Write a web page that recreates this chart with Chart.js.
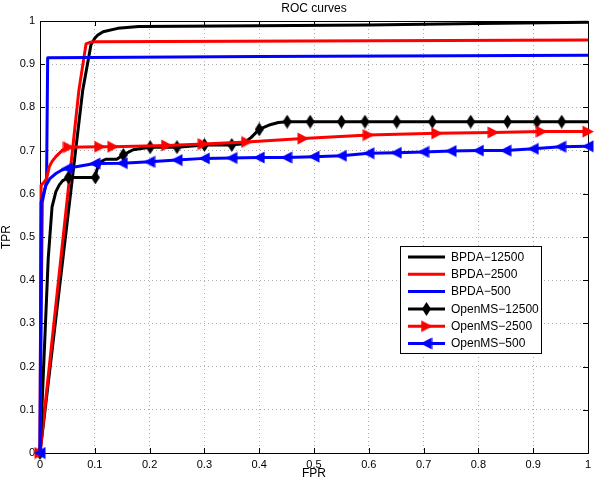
<!DOCTYPE html>
<html lang="en">
<head>
    <meta charset="UTF-8">
    <title>ROC curves</title>
    <script src="https://cdn.jsdelivr.net/npm/chart.js"></script>
    <style>
        body { margin: 0; background: #fff; }
        #wrap { width: 600px; height: 486px; }
    </style>
</head>
<body>
    <div id="wrap"><canvas id="roc" width="600" height="486"></canvas></div>
    <script>
        // axis ticks
        const tickValues = [0, 0.1, 0.2, 0.3, 0.4, 0.5, 0.6, 0.7, 0.8, 0.9, 1];

        // BPDA curves (plain lines)
        const bpda12500X = [0, 0.078, 0.093, 0.1, 0.105, 0.115, 0.142, 0.18, 0.4, 0.6, 0.8, 1];
        const bpda12500Y = [0, 0.84, 0.945, 0.96, 0.967, 0.975, 0.983, 0.987, 0.989, 0.991, 0.994, 0.997];
        const bpda2500X = [0, 0.071, 0.084, 0.092, 0.1, 1];
        const bpda2500Y = [0, 0.84, 0.947, 0.951, 0.952, 0.956];
        const bpda500X = [0, 0.004, 0.012, 0.014, 0.4, 1];
        const bpda500Y = [0, 0.58, 0.63, 0.915, 0.918, 0.921];

        // OpenMS curves: line vertices + marker positions
        const oms12500X = [0, 0.015, 0.022, 0.029, 0.035, 0.041, 0.052, 0.1, 0.105, 0.112, 0.12, 0.14, 0.152, 0.17, 0.2, 0.25, 0.3, 0.35, 0.37, 0.385, 0.4, 0.42, 0.435, 0.451, 1];
        const oms12500Y = [0, 0.45, 0.57, 0.605, 0.62, 0.63, 0.638, 0.638, 0.66, 0.675, 0.68, 0.68, 0.69, 0.702, 0.708, 0.708, 0.713, 0.713, 0.716, 0.73, 0.749, 0.76, 0.765, 0.767, 0.767];
        const oms12500MX = [0, 0.052, 0.101, 0.152, 0.201, 0.25, 0.3, 0.35, 0.4, 0.451, 0.493, 0.55, 0.593, 0.651, 0.716, 0.786, 0.853, 0.907, 0.952];
        const oms12500MY = [0, 0.638, 0.638, 0.69, 0.708, 0.708, 0.713, 0.713, 0.749, 0.767, 0.767, 0.767, 0.767, 0.767, 0.767, 0.767, 0.767, 0.767, 0.767];

        const oms2500X = [0, 0.002, 0.008, 0.012, 0.017, 0.022, 0.029, 0.041, 0.052, 0.109, 0.133, 0.231, 0.298, 0.377, 0.48, 0.599, 0.724, 0.827, 0.915, 1];
        const oms2500Y = [0, 0.62, 0.628, 0.635, 0.663, 0.675, 0.686, 0.701, 0.708, 0.709, 0.709, 0.712, 0.715, 0.72, 0.728, 0.736, 0.74, 0.742, 0.744, 0.744];
        const oms2500MX = [0, 0.052, 0.109, 0.133, 0.231, 0.298, 0.377, 0.48, 0.599, 0.724, 0.827, 0.915, 1];
        const oms2500MY = [0, 0.708, 0.709, 0.709, 0.712, 0.715, 0.72, 0.728, 0.736, 0.74, 0.742, 0.744, 0.744];

        const oms500X = [0, 0.002, 0.011, 0.018, 0.029, 0.04, 0.05, 0.1, 0.15, 0.2, 0.25, 0.3, 0.35, 0.4, 0.45, 0.5, 0.55, 0.6, 0.65, 0.7, 0.75, 0.8, 0.85, 0.9, 0.95, 1];
        const oms500Y = [0, 0.58, 0.62, 0.635, 0.647, 0.655, 0.659, 0.67, 0.671, 0.674, 0.678, 0.682, 0.683, 0.684, 0.684, 0.686, 0.688, 0.694, 0.695, 0.697, 0.699, 0.7, 0.7, 0.704, 0.709, 0.71];
        const oms500MX = [0, 0.05, 0.1, 0.15, 0.2, 0.25, 0.3, 0.35, 0.4, 0.45, 0.5, 0.55, 0.6, 0.65, 0.7, 0.75, 0.8, 0.85, 0.9, 0.95, 1];
        const oms500MY = [0, 0.659, 0.67, 0.671, 0.674, 0.678, 0.682, 0.683, 0.684, 0.684, 0.686, 0.688, 0.694, 0.695, 0.697, 0.699, 0.7, 0.7, 0.704, 0.709, 0.71];

        const seriesNames = ['BPDA\u221212500', 'BPDA\u22122500', 'BPDA\u2212500', 'OpenMS\u221212500', 'OpenMS\u22122500', 'OpenMS\u2212500'];

        const FONT = '"Liberation Sans", Arial, Helvetica, sans-serif';

        // MATLAB-ish filled markers drawn on small canvases
        function makeMarker(kind, color) {
            const c = document.createElement('canvas');
            const w = kind === 'diamond' ? 9 : 12;
            const h = kind === 'diamond' ? 14 : 13;
            c.width = w; c.height = h;
            const g = c.getContext('2d');
            g.beginPath();
            if (kind === 'diamond') {
                g.moveTo(w / 2, 0); g.lineTo(w, h / 2); g.lineTo(w / 2, h); g.lineTo(0, h / 2);
            } else if (kind === 'right') {
                g.moveTo(0.5, 0.5); g.lineTo(w, h / 2); g.lineTo(0.5, h - 0.5);
            } else {
                g.moveTo(w - 0.5, 0.5); g.lineTo(0, h / 2); g.lineTo(w - 0.5, h - 0.5);
            }
            g.closePath();
            g.fillStyle = color;
            g.fill();
            return c;
        }

        const pts = (xs, ys) => xs.map((x, i) => ({ x: x, y: ys[i] }));

        const lines = [
            { name: seriesNames[0], color: '#000000', data: pts(bpda12500X, bpda12500Y), marker: null },
            { name: seriesNames[1], color: '#ff0000', data: pts(bpda2500X, bpda2500Y), marker: null },
            { name: seriesNames[2], color: '#0000ff', data: pts(bpda500X, bpda500Y), marker: null },
            { name: seriesNames[3], color: '#000000', data: pts(oms12500X, oms12500Y), marker: makeMarker('diamond', '#000000'), marks: pts(oms12500MX, oms12500MY) },
            { name: seriesNames[4], color: '#ff0000', data: pts(oms2500X, oms2500Y), marker: makeMarker('right', '#ff0000'), marks: pts(oms2500MX, oms2500MY) },
            { name: seriesNames[5], color: '#0000ff', data: pts(oms500X, oms500Y), marker: makeMarker('left', '#0000ff'), marks: pts(oms500MX, oms500MY) }
        ];

        // later series on top (chart.js draws lower order last)
        const datasets = [];
        let ord = 100;
        lines.forEach(s => {
            datasets.push({
                label: s.name, data: s.data, showLine: true, borderColor: s.color,
                borderWidth: 3, pointRadius: 0, tension: 0, clip: false, order: ord--,
                borderJoinStyle: 'round'
            });
            if (s.marker) {
                datasets.push({
                    label: s.name + ' markers', data: s.marks, showLine: false,
                    pointStyle: s.marker, pointRadius: 6, backgroundColor: s.color,
                    borderColor: s.color, clip: false, order: ord--
                });
            }
        });

        const fmt = v => (v === 0 ? '0' : v === 1 ? '1' : Number(v).toFixed(1));

        const frame = {
            id: 'frame',
            beforeDatasetsDraw(chart) {
                const { ctx, chartArea: a, scales } = chart;
                ctx.save();
                ctx.strokeStyle = '#000';
                ctx.lineWidth = 1;
                ctx.strokeRect(Math.round(a.left) + 0.5, Math.round(a.top) + 0.5,
                    Math.round(a.right - a.left), Math.round(a.bottom - a.top));
                ctx.beginPath();
                tickValues.forEach(v => {
                    const x = Math.round(scales.x.getPixelForValue(v)) + 0.5;
                    ctx.moveTo(x, a.bottom); ctx.lineTo(x, a.bottom - 5);
                    ctx.moveTo(x, a.top); ctx.lineTo(x, a.top + 5);
                    const y = Math.round(scales.y.getPixelForValue(v)) + 0.5;
                    ctx.moveTo(a.left, y); ctx.lineTo(a.left + 5, y);
                    ctx.moveTo(a.right, y); ctx.lineTo(a.right - 5, y);
                });
                ctx.stroke();
                ctx.restore();
            },
            afterDraw(chart) {
                const { ctx } = chart;
                ctx.save();
                ctx.fillStyle = '#000';
                ctx.font = '12px ' + FONT;
                ctx.textAlign = 'center';
                ctx.textBaseline = 'middle';
                ctx.fillText('ROC curves', 314, 9);
                ctx.fillText('FPR', 314, 474);
                ctx.translate(7, 237);
                ctx.rotate(-Math.PI / 2);
                ctx.fillText('TPR', 0, 0);
                ctx.restore();

                // legend
                ctx.save();
                ctx.fillStyle = '#fff';
                ctx.fillRect(400.5, 246.5, 141, 107);
                ctx.strokeStyle = '#000';
                ctx.lineWidth = 1;
                ctx.strokeRect(400.5, 246.5, 141, 107);
                ctx.font = '12px ' + FONT;
                ctx.textAlign = 'left';
                ctx.textBaseline = 'middle';
                lines.forEach((s, i) => {
                    const y = 257 + i * 17.3;
                    ctx.strokeStyle = s.color;
                    ctx.lineWidth = 3;
                    ctx.beginPath();
                    ctx.moveTo(408, y); ctx.lineTo(445, y);
                    ctx.stroke();
                    if (s.marker) {
                        ctx.drawImage(s.marker, 426.5 - s.marker.width / 2, y - s.marker.height / 2);
                    }
                    ctx.fillStyle = '#000';
                    ctx.fillText(s.name, 451, y + 0.5);
                });
                ctx.restore();
            }
        };

        const axisCommon = {
            type: 'linear', min: 0, max: 1,
            grid: { color: 'rgba(0,0,0,0.32)', lineWidth: 1, drawTicks: false },
            border: { display: false, dash: [1, 3] }
        };

        new Chart(document.getElementById('roc'), {
            type: 'scatter',
            data: { datasets: datasets },
            options: {
                responsive: false,
                animation: false,
                layout: { padding: { left: 0, right: 12, top: 21, bottom: 0 } },
                plugins: { legend: { display: false }, tooltip: { enabled: false } },
                scales: {
                    x: Object.assign({}, axisCommon, {
                        afterFit: s => { s.height = 33; },
                        afterBuildTicks: s => { s.ticks = tickValues.map(v => ({ value: v })); },
                        ticks: { color: '#000', padding: 5, maxRotation: 0, autoSkip: false, callback: fmt, font: { family: FONT, size: 11 } }
                    }),
                    y: Object.assign({}, axisCommon, {
                        afterFit: s => { s.width = 40; },
                        afterBuildTicks: s => { s.ticks = tickValues.map(v => ({ value: v })); },
                        ticks: { color: '#000', padding: 5, autoSkip: false, callback: fmt, font: { family: FONT, size: 11 } }
                    })
                }
            },
            plugins: [frame]
        });
    </script>
</body>
</html>
